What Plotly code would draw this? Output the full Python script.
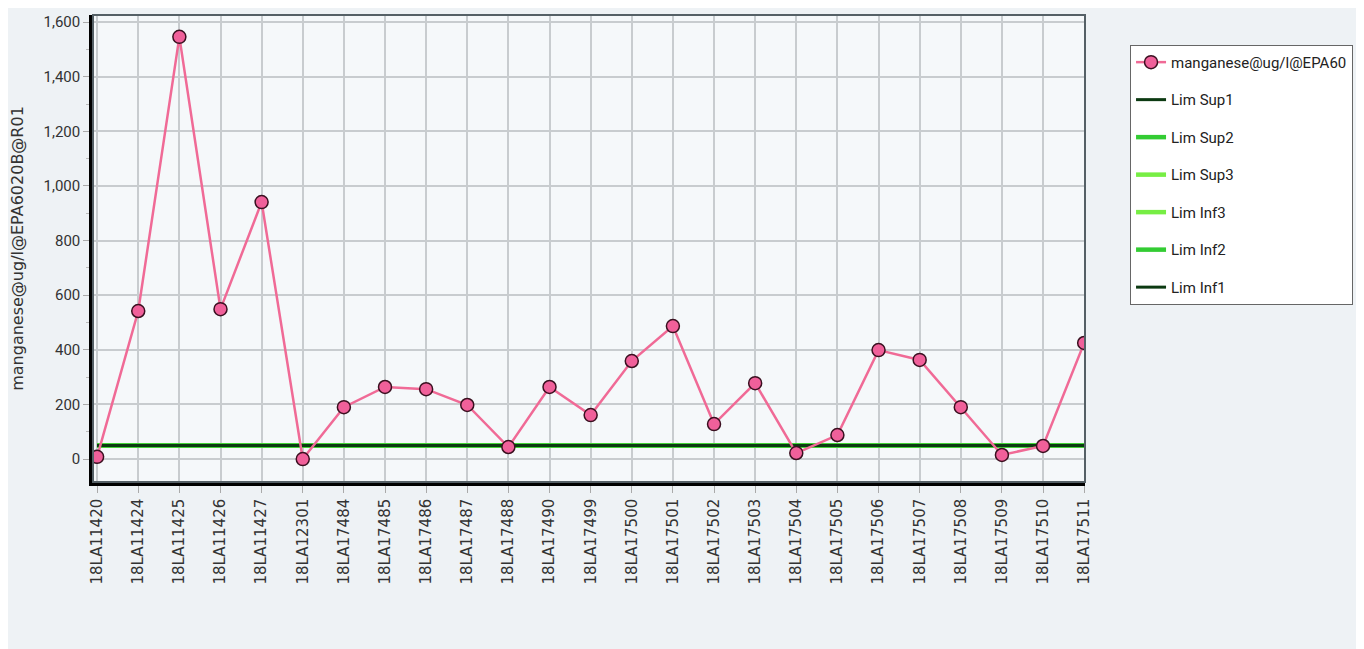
import plotly.graph_objects as go

categories = ["18LA11420", "18LA11424", "18LA11425", "18LA11426", "18LA11427", "18LA12301",
              "18LA17484", "18LA17485", "18LA17486", "18LA17487", "18LA17488", "18LA17490",
              "18LA17499", "18LA17500", "18LA17501", "18LA17502", "18LA17503", "18LA17504",
              "18LA17505", "18LA17506", "18LA17507", "18LA17508", "18LA17509", "18LA17510",
              "18LA17511"]
manganese = [8, 542, 1546, 549, 941, 0, 190, 264, 256, 198, 44, 264, 161, 359, 487, 128,
             278, 22, 88, 399, 363, 190, 15, 48, 425]
lim_sup1 = [50] * len(categories)
lim_sup2 = [50] * len(categories)
lim_sup3 = [50] * len(categories)
lim_inf3 = [50] * len(categories)
lim_inf2 = [50] * len(categories)
lim_inf1 = [50] * len(categories)

DARK = "#0c3a12"
x = list(range(len(categories)))
fig = go.Figure()

limits = [("Lim Sup1", lim_sup1, DARK, 2), ("Lim Sup2", lim_sup2, "#33cc33", 3),
          ("Lim Sup3", lim_sup3, "#77ee44", 4), ("Lim Inf3", lim_inf3, "#77ee44", 5),
          ("Lim Inf2", lim_inf2, "#33cc33", 6), ("Lim Inf1", lim_inf1, DARK, 7)]
# light lines drawn first, dark lines on top
for nm, vals, col, rank in sorted(limits, key=lambda t: t[2] == DARK):
    fig.add_trace(go.Scatter(x=x, y=vals, mode="lines", name=nm,
                             line=dict(color=col, width=3 if col == DARK else 4.5),
                             legendgroup=nm, legendrank=rank))

fig.add_trace(go.Scatter(x=x, y=manganese, mode="lines+markers", name="manganese@ug/l@EPA60",
                         line=dict(color="#f06a96", width=2.5),
                         marker=dict(color="#f0609a", size=13, line=dict(color="#3a1020", width=1.5)),
                         legendgroup="mn", legendrank=1))

fig.update_layout(
    width=1364, height=649,
    margin=dict(l=85, r=287, t=7, b=175, autoexpand=False),
    paper_bgcolor="#eef2f5",
    plot_bgcolor="#f5f8fa",
    showlegend=True,
    legend=dict(x=1.0454, y=0.936, xanchor="left", yanchor="top",
                bgcolor="#ffffff", bordercolor="#666666", borderwidth=1,
                font=dict(family="Liberation Sans Narrow, Arial Narrow, Roboto, sans-serif", size=15, color="#222222"),
                tracegroupgap=15, itemwidth=30),
    font=dict(family="DejaVu Sans, Verdana, sans-serif"),
)
fig.update_xaxes(
    range=[-0.1, 24.02], tickmode="array", tickvals=x, ticktext=categories,
    tickangle=-90, tickfont=dict(family="DejaVu Sans, Verdana, sans-serif", size=15, color="#333333"),
    showgrid=True, gridcolor="#c8cccf", gridwidth=1.5,
    showline=True, linecolor="#000000", linewidth=3.5, mirror=False,
    ticks="outside", ticklen=7, tickcolor="#aaaaaa",
    minor=dict(ticks="outside", ticklen=3, tickcolor="#bbbbbb", nticks=5, showgrid=False),
    zeroline=False,
)
fig.update_yaxes(
    range=[-84, 1626], tickvals=[0, 200, 400, 600, 800, 1000, 1200, 1400, 1600],
    tickformat=",d",
    tickfont=dict(family="Liberation Sans Narrow, Arial Narrow, Roboto, sans-serif", size=15, color="#333333"),
    title=dict(text="manganese@ug/l@EPA6020B@R01",
               font=dict(family="DejaVu Sans, Verdana, sans-serif", size=16, color="#333333"), standoff=20),
    showgrid=True, gridcolor="#c8cccf", gridwidth=2,
    showline=True, linecolor="#000000", linewidth=3.5,
    ticks="outside", ticklen=6, tickcolor="#aaaaaa",
    minor=dict(ticks="outside", ticklen=3, tickcolor="#bbbbbb", nticks=5, showgrid=False),
    zeroline=False,
)
# top/right frame
fig.add_shape(type="rect", xref="paper", yref="paper", x0=0, y0=0, x1=1, y1=1,
              line=dict(color="#556066", width=2), layer="above")

fig.write_html("out.html")
